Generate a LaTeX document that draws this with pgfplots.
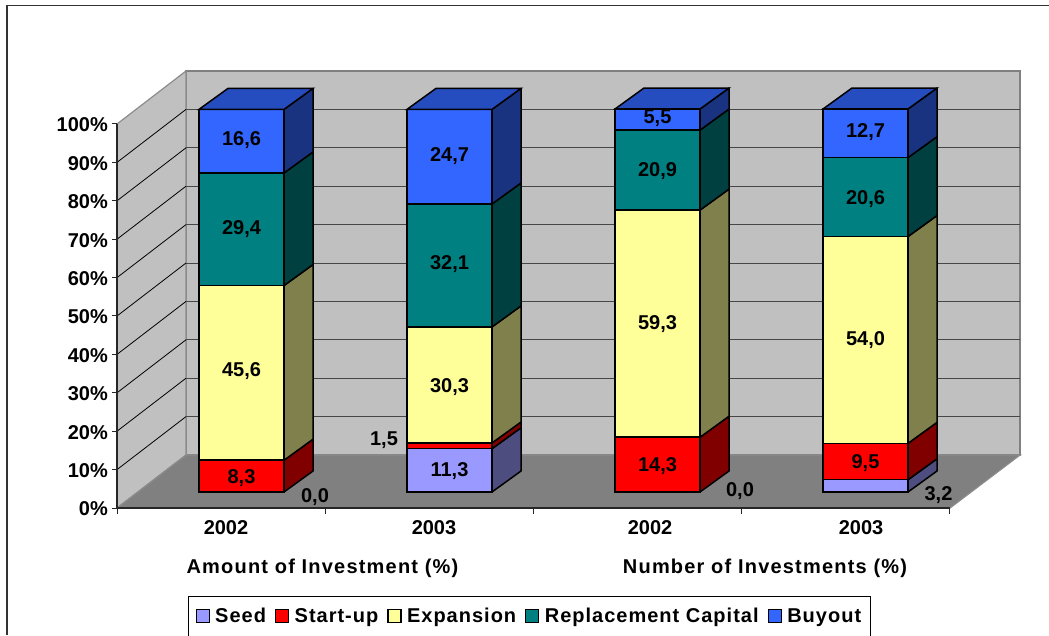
\documentclass[border=0pt]{standalone}
\usepackage{fontspec}
\setmainfont{Liberation Sans}
\newfontfamily\spaced[LetterSpace=6]{Liberation Sans}
\newfontfamily\spacedl[LetterSpace=5]{Liberation Sans}
\usepackage{pgfplots}
\pgfplotsset{compat=1.18}
\definecolor{cSeed}{HTML}{9999FF}
\definecolor{cStart}{HTML}{FF0000}
\definecolor{cExp}{HTML}{FFFF99}
\definecolor{cRep}{HTML}{008080}
\definecolor{cBuy}{HTML}{3366FF}
\definecolor{sSeed}{HTML}{4D4D80}
\definecolor{sStart}{HTML}{800000}
\definecolor{sExp}{HTML}{80804D}
\definecolor{sRep}{HTML}{004040}
\definecolor{sBuy}{HTML}{1A3380}
\definecolor{tBuy}{HTML}{264DBF}
\definecolor{wall}{HTML}{C0C0C0}
\definecolor{floorc}{HTML}{808080}
\newcommand\lab{\fontsize{20pt}{22pt}\selectfont\bfseries}
\newcommand\gl[2]{%
  \addplot[line width=0.8pt,black] coordinates {(117,#1)(186,#2)};
  \addplot[line width=1pt,black!72] coordinates {(186,#2)(1020,#2)};}
\newcommand\side[7]{%
  \addplot[fill=#7,draw=black,line width=1.5pt,line join=round] coordinates {(#1,#3)(#2,#5)(#2,#6)(#1,#4)} -- cycle;}
\pgfplotsset{canvas/.style={scale only axis,width=1049pt,height=635pt,
  at={(0pt,0pt)},anchor=south west,hide axis,clip=false,xmin=0,xmax=1049}}
\begin{document}
\begin{tikzpicture}[x=1pt,y=1pt]
\useasboundingbox (0,0) rectangle (1049,635);
\clip (0,0) rectangle (1049,635);
\fill[white] (0,0) rectangle (1049,635);
\draw[line width=1.4pt,black!80] (7,0) -- (7,629.5) -- (1049,629.5);
% walls, floor, grid (pixel units)
\begin{axis}[canvas,ymin=0,ymax=635,y dir=reverse]
\addplot[fill=wall,draw=black!50!white,line width=1.2pt] coordinates {(186,71)(1020,71)(1020,455)(186,455)} -- cycle;
\addplot[fill=wall,draw=black!45,line width=1.2pt] coordinates {(117,508)(186,455)(186,71)(117,124)} -- cycle;
\addplot[fill=floorc,draw=black!45,line width=1.2pt] coordinates {(117,508)(950,508)(1020,455)(186,455)} -- cycle;
\gl{469.6}{416.6}\gl{431.2}{378.2}\gl{392.8}{339.8}\gl{354.4}{301.4}\gl{316}{263}
\gl{277.6}{224.6}\gl{239.2}{186.2}\gl{200.8}{147.8}\gl{162.4}{109.4}
\end{axis}
% real axes with ticks
\begin{axis}[scale only axis,width=833pt,height=384pt,at={(117pt,127pt)},anchor=south west,
  xmin=117,xmax=950,ymin=0,ymax=100,clip=false,
  axis x line=bottom,axis y line=left,axis line style={-,line width=1.3pt,black!85},
  xtick={226,434,650,861},xticklabels={2002,2003,2002,2003},
  minor xtick={117,325,533,741,949},
  ytick={0,10,...,100},
  yticklabels={0\%,10\%,20\%,30\%,40\%,50\%,60\%,70\%,80\%,90\%,100\%},
  /pgf/number format/assume math mode=true,
  major x tick style={draw=none},
  minor tick length=6pt,major tick length=5pt,tick align=outside,
  tick style={line width=1pt,black!85},
  tick label style={font=\lab},
  xticklabel style={yshift=-4pt},
  yticklabel style={xshift=-1pt,yshift=-1pt,inner sep=3pt}]
\end{axis}
% stacked bars, values in percent
\begin{axis}[canvas,ymin=-37.337,ymax=128.46,
  ybar stacked,bar width=85pt,bar shift=0pt,
  legend columns=5,
  legend style={at={(0.17922,0.06142)},anchor=north west,draw=black,line width=1pt,fill=white,
    inner xsep=7pt,inner ysep=0pt,
    /tikz/every odd column/.style={column sep=3.5pt},
    /tikz/every even column/.style={column sep=7pt},
    nodes={font=\lab\spacedl,text height=24pt,text depth=24pt,inner sep=2pt,anchor=base west}},
  legend image code/.code={\draw[#1,line width=1.2pt] (0pt,0pt) rectangle (13pt,13pt);}]
\addplot[fill=cSeed,draw=black,line width=1.5pt] coordinates {(241.5,0)(449.5,11.3)(657.5,0)(865.5,3.2)};
\addplot[fill=cStart,draw=black,line width=1.5pt] coordinates {(241.5,8.3)(449.5,1.5)(657.5,14.3)(865.5,9.5)};
\addplot[fill=cExp,draw=black,line width=1.5pt] coordinates {(241.5,45.6)(449.5,30.3)(657.5,59.3)(865.5,54.0)};
\addplot[fill=cRep,draw=black,line width=1.5pt] coordinates {(241.5,29.4)(449.5,32.1)(657.5,20.9)(865.5,20.6)};
\addplot[fill=cBuy,draw=black,line width=1.5pt] coordinates {(241.5,16.6)(449.5,24.7)(657.5,5.5)(865.5,12.7)};
\legend{Seed,Start-up,Expansion,Replacement Capital,Buyout}
\end{axis}
% side and top faces, labels
\begin{axis}[canvas,ymin=-37.337,ymax=128.46]
\side{284}{313}{0}{8.3}{5.48}{13.78}{sStart}
\side{284}{313}{8.3}{53.9}{13.78}{59.38}{sExp}
\side{284}{313}{53.9}{83.3}{59.38}{88.78}{sRep}
\side{284}{313}{83.3}{99.9}{88.78}{105.38}{sBuy}
\side{492}{521}{0}{11.3}{5.48}{16.78}{sSeed}
\side{492}{521}{11.3}{12.8}{16.78}{18.28}{sStart}
\side{492}{521}{12.8}{43.1}{18.28}{48.58}{sExp}
\side{492}{521}{43.1}{75.2}{48.58}{80.68}{sRep}
\side{492}{521}{75.2}{99.9}{80.68}{105.38}{sBuy}
\side{700}{729}{0}{14.3}{5.48}{19.78}{sStart}
\side{700}{729}{14.3}{73.6}{19.78}{79.08}{sExp}
\side{700}{729}{73.6}{94.5}{79.08}{99.98}{sRep}
\side{700}{729}{94.5}{100}{99.98}{105.48}{sBuy}
\side{908}{937}{0}{3.2}{5.48}{8.68}{sSeed}
\side{908}{937}{3.2}{12.7}{8.68}{18.18}{sStart}
\side{908}{937}{12.7}{66.7}{18.18}{72.18}{sExp}
\side{908}{937}{66.7}{87.3}{72.18}{92.78}{sRep}
\side{908}{937}{87.3}{100}{92.78}{105.48}{sBuy}
\addplot[fill=tBuy,draw=black,line width=1.5pt] coordinates {(199,99.9)(228,105.38)(313,105.38)(284,99.9)} -- cycle;
\addplot[fill=tBuy,draw=black,line width=1.5pt] coordinates {(407,99.9)(436,105.38)(521,105.38)(492,99.9)} -- cycle;
\addplot[fill=tBuy,draw=black,line width=1.5pt] coordinates {(615,100)(644,105.48)(729,105.48)(700,100)} -- cycle;
\addplot[fill=tBuy,draw=black,line width=1.5pt] coordinates {(823,100)(852,105.48)(937,105.48)(908,100)} -- cycle;
\addplot[draw=none,mark=none,only marks,point meta=explicit symbolic,
  nodes near coords,nodes near coords align={center},
  every node near coord/.append style={font=\lab,anchor=center,inner sep=0pt,yshift=-2pt}]
  table[meta=l] {
x y l
241.5 4.15 8,3
241.5 32.1 45,6
241.5 69.2 29,4
241.5 92.4 16,6
315 -0.8 0,0
449.5 6.0 11,3
384 14.1 1,5
449.5 27.9 30,3
449.5 60.0 32,1
449.5 88.3 24,7
657.5 7.3 14,3
657.5 44.4 59,3
657.5 84.3 20,9
657.5 98.0 5,5
740 0.8 0,0
938.5 -0.2 3,2
865.5 8.1 9,5
865.5 40.2 54,0
865.5 77.0 20,6
865.5 94.5 12,7
};
\end{axis}
\node[font=\lab\spaced] at (322.5,67) {Amount of Investment (\%)};
\node[font=\lab\spaced] at (765,67) {Number of Investments (\%)};
\end{tikzpicture}
\end{document}
